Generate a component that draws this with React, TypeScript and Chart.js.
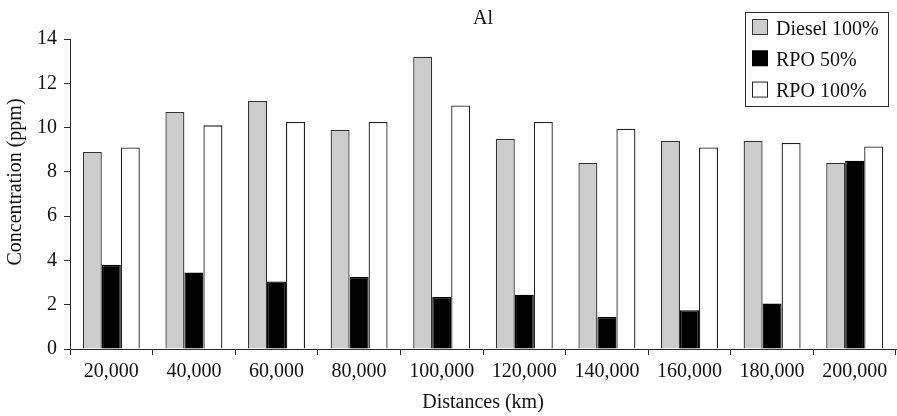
import { useEffect, useRef } from "react";
import { Chart, registerables } from "chart.js";

Chart.register(...registerables);

const categories = ["20,000", "40,000", "60,000", "80,000", "100,000", "120,000", "140,000", "160,000", "180,000", "200,000"];
const diesel100 = [8.9, 10.7, 11.2, 9.9, 13.2, 9.5, 8.4, 9.4, 9.4, 8.4];
const rpo50 = [3.8, 3.45, 3.05, 3.25, 2.35, 2.45, 1.45, 1.75, 2.05, 8.5];
const rpo100 = [9.1, 10.1, 10.25, 10.25, 11.0, 10.25, 9.95, 9.1, 9.3, 9.15];
const seriesLabels = ["Diesel 100%", "RPO 50%", "RPO 100%"];
const yMin = 0;
const yMax = 14;
const yStep = 2;
const chartTitle = "Al";
const xTitle = "Distances (km)";
const yTitle = "Concentration (ppm)";

const FONT = '"Liberation Serif", "Times New Roman", serif';
const TEXT = "#111111";
const AXIS = "#2a2a2a";

const overlayPlugin = {
  id: "overlay",
  afterDraw(chart: any) {
    const { ctx, chartArea } = chart;
    ctx.save();
    ctx.fillStyle = TEXT;
    ctx.font = `20px ${FONT}`;
    ctx.textAlign = "center";
    ctx.textBaseline = "alphabetic";
    const cx = (chartArea.left + chartArea.right) / 2;
    ctx.fillText(chartTitle, cx, 24);
    ctx.fillText(xTitle, cx, 408);
    ctx.save();
    ctx.translate(21, 182);
    ctx.rotate(-Math.PI / 2);
    ctx.fillText(yTitle, 0, 0);
    ctx.restore();

    // legend
    const lx = 745.5, ly = 12.5, lw = 143, lh = 94;
    ctx.fillStyle = "#ffffff";
    ctx.fillRect(lx, ly, lw, lh);
    ctx.strokeStyle = AXIS;
    ctx.lineWidth = 1;
    ctx.strokeRect(lx, ly, lw, lh);
    ctx.textAlign = "left";
    chart.data.datasets.forEach((ds: any, i: number) => {
      const sy = 19.5 + i * 31.3;
      ctx.fillStyle = ds.backgroundColor;
      ctx.fillRect(752.5, sy, 15, 15);
      ctx.strokeStyle = ds.borderColor;
      ctx.lineWidth = 1;
      ctx.strokeRect(752.5, sy, 15, 15);
      ctx.fillStyle = TEXT;
      ctx.fillText(ds.label, 776, sy + 15);
    });
    ctx.restore();
  },
};

export default function App() {
  const ref = useRef<HTMLCanvasElement | null>(null);
  useEffect(() => {
    if (!ref.current) return;
    const chart = new Chart(ref.current, {
      type: "bar",
      data: {
        labels: categories,
        datasets: [
          { label: seriesLabels[0], data: diesel100, backgroundColor: "#cccccc", borderColor: "#333333", borderWidth: 1.3 },
          { label: seriesLabels[1], data: rpo50, backgroundColor: "#000000", borderColor: "#000000", borderWidth: 1.3 },
          { label: seriesLabels[2], data: rpo100, backgroundColor: "#ffffff", borderColor: "#222222", borderWidth: 1.3 },
        ],
      },
      options: {
        responsive: false,
        animation: false,
        layout: { padding: { top: 39, right: 1, bottom: 0, left: 0 } },
        datasets: { bar: { categoryPercentage: 0.69, barPercentage: 1.0 } },
        plugins: { legend: { display: false }, title: { display: false }, tooltip: { enabled: false } },
        scales: {
          x: {
            afterFit: (s: any) => { s.height = 67; },
            grid: { drawOnChartArea: false, drawTicks: true, tickLength: 6, color: AXIS, offset: true },
            border: { display: true, color: AXIS, width: 1 },
            ticks: { color: TEXT, font: { family: FONT, size: 20 }, padding: 5, maxRotation: 0, autoSkip: false },
          },
          y: {
            min: yMin,
            max: yMax,
            afterFit: (s: any) => { s.width = 70; },
            grid: { drawOnChartArea: false, drawTicks: true, tickLength: 6, color: AXIS },
            border: { display: true, color: AXIS, width: 1 },
            ticks: { stepSize: yStep, color: TEXT, font: { family: FONT, size: 20 }, padding: 7 },
          },
        },
      },
      plugins: [overlayPlugin],
    });
    return () => chart.destroy();
  }, []);
  return (
    <div style={{ position: "fixed", left: 0, top: 0, width: 897, height: 416, background: "#fff" }}>
      <canvas ref={ref} width={897} height={416} style={{ display: "block" }} />
    </div>
  );
}
